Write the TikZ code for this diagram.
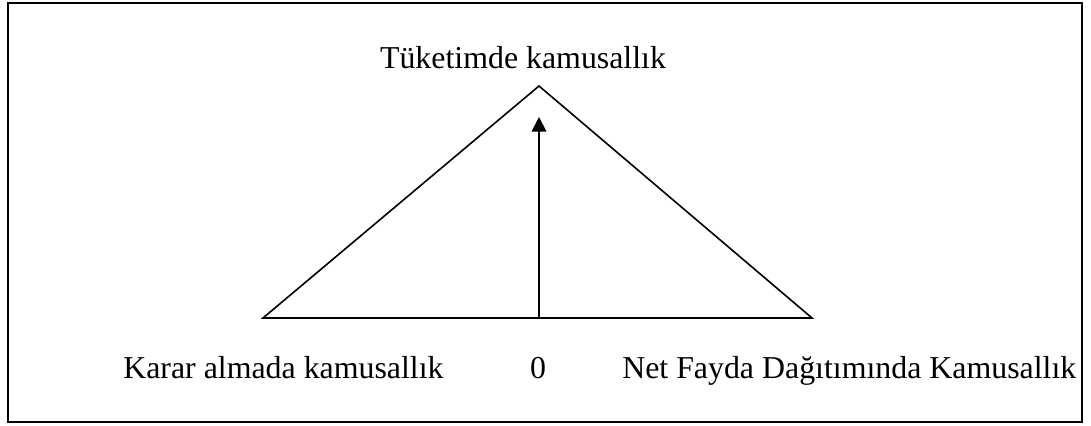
\documentclass[tikz,border=0pt]{standalone}
\usepackage{fontspec}
\setmainfont{Liberation Serif}
\usetikzlibrary{arrows.meta}
\tikzset{lbl/.style={font=\fontsize{23.9}{28}\selectfont, inner sep=0pt},
  edge/.style={line width=1.2pt, black},
  arr/.style={-{Triangle[length=11pt,width=11pt]}, line width=1.3pt}}
\begin{document}
\begin{tikzpicture}[x=0.75pt,y=0.75pt]
\useasboundingbox (0,0) rectangle (1091,425);
% ---- frame ----
\draw[line width=1.6pt] (8,3) rectangle (1082,422);
% ---- triangle ----
\coordinate (apex) at (539,339);
\coordinate (bl) at (263,107);
\coordinate (br) at (812,107);
\draw[edge, line join=miter] (bl) -- (apex) -- (br) -- cycle;
% ---- arrow ----
\coordinate (o) at (539,107);
\coordinate (up) at (539,308);
\draw[arr] (o) -- (up);
% ---- labels ----
\node[lbl, anchor=base] (cons) at (523,356) {Tüketimde kamusallık};
\node[lbl, anchor=base west] (dec) at (123,47) {Karar almada kamusallık};
\node[lbl, anchor=base] (zero) at (538,47) {0};
\node[lbl, anchor=base west] (net) at (622,47) {Net Fayda Dağıtımında Kamusallık};
\end{tikzpicture}
\end{document}
